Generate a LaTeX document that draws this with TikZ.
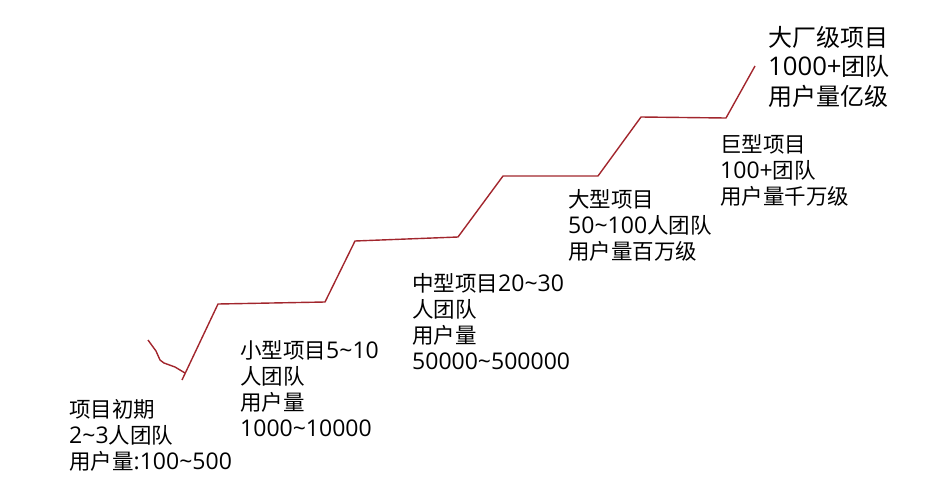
\documentclass[tikz,border=0pt]{standalone}
\usepackage{fontspec}
\setmainfont{Noto Sans CJK SC}
\newfontfamily\numfont[Scale=1.07]{Open Sans}
\newcommand{\nm}[1]{{\numfont #1}}
\usetikzlibrary{positioning}
\definecolor{stair}{HTML}{A2262D}

\begin{document}
\begin{tikzpicture}[x=1pt, y=-1pt,
  stage/.style={anchor=north west, inner sep=0pt, align=left, font=\fontsize{21.5}{26}\selectfont},
  topstage/.style={stage, font=\fontsize{24}{29.5}\selectfont},
  stairline/.style={draw=stair, line width=1.4pt, line join=round}]
  \useasboundingbox (0,0) rectangle (943,488);

  % stairs
  \coordinate (s0) at (182,380);
  \coordinate (s1) at (218,304);
  \coordinate (s2) at (325,302);
  \coordinate (s3) at (355,241);
  \coordinate (s4) at (458,237);
  \coordinate (s5) at (503,176);
  \coordinate (s6) at (598,176);
  \coordinate (s7) at (641,117);
  \coordinate (s8) at (726,118);
  \coordinate (s9) at (755,66);
  \draw[stairline] (s0) -- (s1) -- (s2) -- (s3) -- (s4) -- (s5) -- (s6) -- (s7) -- (s8) -- (s9);
  \draw[stairline] (148,340) -- (156,351) -- (160,360) -- (164,363) -- (175,367) -- (185,373);

  % labels
  \node[stage] (start) at (69,399) {项目初期\\\nm{2\textasciitilde3}人团队\\用户量\nm{:100\textasciitilde500}};
  \node[stage] (small) at (240,340) {小型项目\nm{5\textasciitilde10}\\人团队\\用户量\\\nm{1000\textasciitilde10000}};
  \node[stage] (medium) at (412,273) {中型项目\nm{20\textasciitilde30}\\人团队\\用户量\\\nm{50000\textasciitilde500000}};
  \node[stage] (large) at (568,189) {大型项目\\\nm{50\textasciitilde100}人团队\\用户量百万级};
  \node[stage] (huge) at (720,134) {巨型项目\\\nm{100+}团队\\用户量千万级};
  \node[topstage] (giant) at (768,26) {大厂级项目\\\nm{1000+}团队\\用户量亿级};
\end{tikzpicture}
\end{document}
